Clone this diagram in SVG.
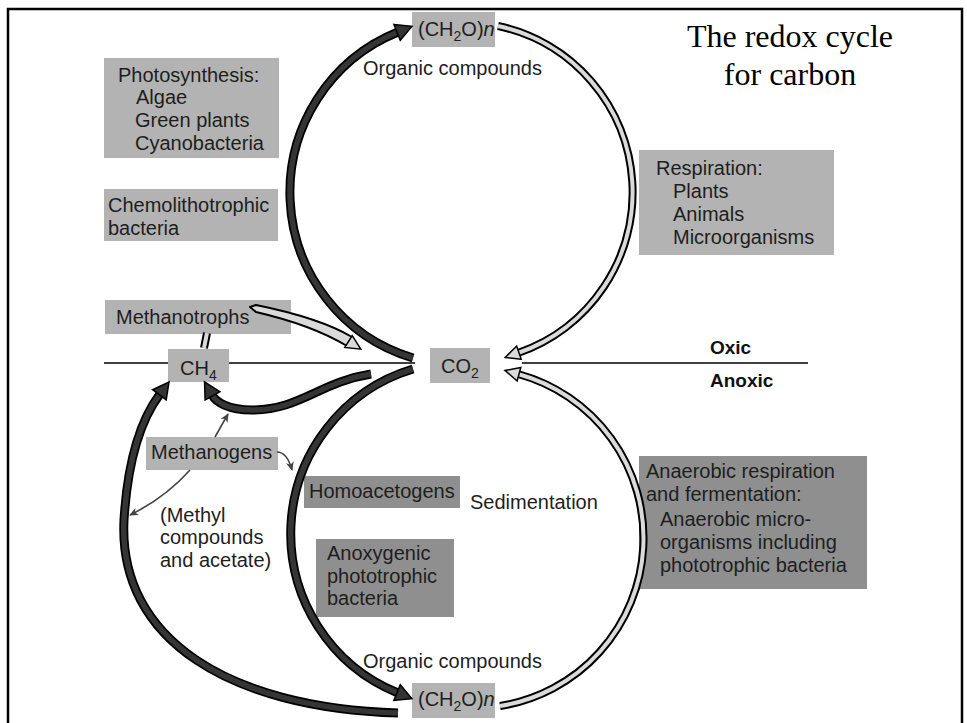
<svg xmlns="http://www.w3.org/2000/svg" width="967" height="723" viewBox="0 0 967 723">
<style>
text{font-family:"Liberation Sans",Arial,sans-serif;font-size:20px;fill:#1e1e1e}
.title{font-family:"Liberation Serif","Times New Roman",serif;font-size:32px;fill:#000;text-anchor:middle}
.bold{font-weight:bold;font-size:19px;fill:#111}
.lb{fill:#b3b3b3}
.db{fill:#8f8f8f}
.bo{fill:none;stroke:#000;stroke-width:9}
.bi{fill:none;stroke:#353535;stroke-width:5.5}
.wo{fill:none;stroke:#000;stroke-width:8}
.wi{fill:none;stroke:#dadada;stroke-width:4}
.thin{fill:none;stroke:#444;stroke-width:1.6}
.sub{font-size:14px}
</style>
<defs>
<marker id="hb" markerUnits="userSpaceOnUse" markerWidth="20" markerHeight="20" viewBox="0 0 20 20" refX="3" refY="10" orient="auto">
<path d="M2,1.5 L18,10 L2,18.5 Z" fill="#333" stroke="#000" stroke-width="1.5"/>
</marker>
<marker id="hw" markerUnits="userSpaceOnUse" markerWidth="18" markerHeight="18" viewBox="0 0 18 18" refX="3" refY="9" orient="auto">
<path d="M2,2 L16.5,9 L2,16 Z" fill="#dadada" stroke="#000" stroke-width="1.5"/>
</marker>
<marker id="ht" markerUnits="userSpaceOnUse" markerWidth="10" markerHeight="10" viewBox="0 0 10 10" refX="8" refY="5" orient="auto">
<path d="M0,1 L9,5 L0,9 L2.5,5 Z" fill="#444"/>
</marker>
</defs>
<rect x="0" y="0" width="967" height="723" fill="#fff"/>
<rect x="8" y="9" width="954" height="740" fill="none" stroke="#000" stroke-width="2.5"/>

<g id="divider">
<line x1="104" y1="363" x2="415" y2="363" stroke="#000" stroke-width="1.6"/>
<line x1="522" y1="363" x2="808" y2="363" stroke="#000" stroke-width="1.6"/>
</g>

<g id="title">
<text class="title" x="790" y="47">The redox cycle</text>
<text class="title" x="790" y="85">for carbon</text>
</g>

<g id="ch2o-top">
<rect class="lb" x="412" y="12" width="83" height="35"/>
<text x="418" y="36">(CH<tspan class="sub" dy="5">2</tspan><tspan dy="-5">O)</tspan><tspan font-style="italic">n</tspan></text>
<text x="363" y="75">Organic compounds</text>
</g>

<g id="photosynthesis">
<rect class="lb" x="104" y="58" width="175" height="100"/>
<text x="118" y="82">Photosynthesis:</text>
<text x="136" y="104">Algae</text>
<text x="135" y="127">Green plants</text>
<text x="135" y="150">Cyanobacteria</text>
</g>

<g id="chemolithotrophic">
<rect class="lb" x="104" y="189" width="174" height="52"/>
<text x="108" y="212">Chemolithotrophic</text>
<text x="108" y="235">bacteria</text>
</g>

<g id="methanotrophs">
<rect class="lb" x="105" y="300" width="186" height="34"/>
<text x="116" y="324">Methanotrophs</text>
</g>

<g id="ch4">
<rect class="lb" x="168" y="349" width="61" height="33"/>
<text x="180" y="375">CH<tspan class="sub" dy="5">4</tspan></text>
</g>

<g id="co2">
<rect class="lb" x="430" y="348" width="60" height="35"/>
<text x="441" y="373">CO<tspan class="sub" dy="5">2</tspan></text>
</g>

<g id="zones">
<text class="bold" x="710" y="354">Oxic</text>
<text class="bold" x="710" y="387">Anoxic</text>
</g>

<g id="respiration">
<rect class="lb" x="639" y="150" width="195" height="105"/>
<text x="656" y="175">Respiration:</text>
<text x="673" y="198">Plants</text>
<text x="673" y="221">Animals</text>
<text x="673" y="244">Microorganisms</text>
</g>

<g id="methanogens">
<rect class="lb" x="146" y="437" width="132" height="33"/>
<text x="151" y="459">Methanogens</text>
</g>

<g id="homoacetogens">
<rect class="db" x="304" y="476" width="156" height="32"/>
<text x="309" y="498">Homoacetogens</text>
</g>

<g id="sedimentation">
<text x="470" y="509">Sedimentation</text>
</g>

<g id="methyl">
<text x="160" y="522">(Methyl</text>
<text x="160" y="544">compounds</text>
<text x="160" y="567">and acetate)</text>
</g>

<g id="anoxygenic">
<rect class="db" x="316" y="539" width="138" height="78"/>
<text x="327" y="560">Anoxygenic</text>
<text x="327" y="583">phototrophic</text>
<text x="327" y="605">bacteria</text>
</g>

<g id="anaerobic">
<rect class="db" x="639" y="456" width="228" height="133"/>
<text x="646" y="478">Anaerobic respiration</text>
<text x="646" y="501">and fermentation:</text>
<text x="660" y="526">Anaerobic micro-</text>
<text x="660" y="549">organisms including</text>
<text x="660" y="572">phototrophic bacteria</text>
</g>

<g id="ch2o-bottom">
<text x="363" y="668">Organic compounds</text>
<rect class="lb" x="412" y="683" width="83" height="35"/>
<text x="418" y="706">(CH<tspan class="sub" dy="5">2</tspan><tspan dy="-5">O)</tspan><tspan font-style="italic">n</tspan></text>
</g>

<g id="connectors">
<!-- photosynthesis -->
<path class="bo" d="M413 358 A173 173 0 0 1 398 32"/>
<path class="bi" d="M413 358 A173 173 0 0 1 398 32" marker-end="url(#hb)"/>
<!-- respiration -->
<path class="wo" d="M498 26 A170 170 0 0 1 518 353"/>
<path class="wi" d="M498 26 A170 170 0 0 1 518 353" marker-end="url(#hw)"/>
<!-- anaerobic -->
<path class="wo" d="M500 706 A170 170 0 0 0 518 374"/>
<path class="wi" d="M500 706 A170 170 0 0 0 518 374" marker-end="url(#hw)"/>
<!-- sedimentation -->
<path class="bo" d="M413 369 A172 172 0 0 0 398 693"/>
<path class="bi" d="M413 369 A172 172 0 0 0 398 693" marker-end="url(#hb)"/>
<!-- organic to CH4 -->
<path class="bo" d="M398 713 C230 708 118 640 124 520 C128 455 142 418 160 394"/>
<path class="bi" d="M398 713 C230 708 118 640 124 520 C128 455 142 418 160 394" marker-end="url(#hb)"/>
<!-- CO2 to CH4 -->
<path class="bo" d="M371 374 C320 382 300 410 252 410 C228 410 216 402 212 395"/>
<path class="bi" d="M371 374 C320 382 300 410 252 410 C228 410 216 402 212 395" marker-end="url(#hb)"/>
<!-- methanotrophs -->
<path class="wo" d="M207 333 L204 348"/>
<path class="wi" d="M207 333 L204 348"/>
<path d="M250 307 L256 305 Q320 318 352 337 L347 346 Q312 325 256 312 Z" fill="#dadada" stroke="#000" stroke-width="2" stroke-linejoin="round"/>
<path d="M348.5 341.5 l0.85 0.53" fill="none" stroke="none" marker-end="url(#hw)"/>
<!-- methanogen thin arrows -->
<path class="thin" d="M215 437 L228 414" marker-end="url(#ht)"/>
<path class="thin" d="M190 470 Q165 498 130 515" marker-end="url(#ht)"/>
<path class="thin" d="M277 452 Q287 452 292 470" marker-end="url(#ht)"/>
</g>
</svg>
